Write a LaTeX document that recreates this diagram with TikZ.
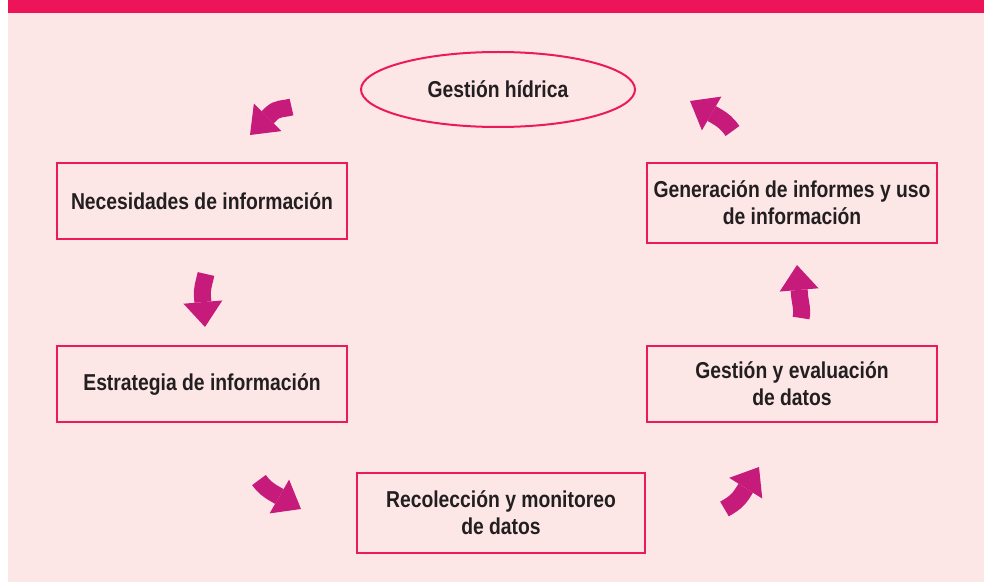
\documentclass[tikz,border=0pt]{standalone}
\usepackage{fontspec}
\setmainfont{Liberation Sans}[FakeStretch=0.84]
\usepackage{tikz}
\usetikzlibrary{arrows.meta, shapes.geometric}

\definecolor{bandred}{HTML}{EE1459}
\definecolor{bgpink}{HTML}{FCE6E6}
\definecolor{boxline}{HTML}{EC1A5C}
\definecolor{arrowmag}{HTML}{C71B7C}
\definecolor{textgray}{HTML}{231F20}

\begin{document}
\begin{tikzpicture}[x=1pt, y=1pt,
		every node/.style={font=\fontsize{23}{27}\selectfont\bfseries, text=textgray, align=center},
		stepbox/.style={draw=boxline, line width=2pt, minimum width=290pt, minimum height=76pt, inner sep=0pt},
		goalbox/.style={ellipse, draw=boxline, line width=2pt, minimum width=274pt, minimum height=75pt, inner sep=0pt},
		bigarrow/.style={arrowmag, line width=17pt, -{Triangle[width=39pt, length=25pt, line width=0pt]}}]
		
		% Background and top band
		\useasboundingbox (0,0) rectangle (984,582);
		\fill[white] (0,0) rectangle (984,582);
		\fill[bgpink] (8,0) rectangle (984,569);
		\fill[bandred] (8,569) rectangle (984,582);
		
		% Goal (ellipse)
		\node[goalbox] (gestion) at (498,492.5) {Gestión hídrica};
		
		% Left column
		\node[stepbox] (necesidades) at (202,381) {Necesidades de información};
		\node[stepbox] (estrategia) at (202,198) {Estrategia de información};
		
		% Bottom
		\node[stepbox, minimum width=288pt, minimum height=80pt] (recoleccion) at (501,69) {Recolección y monitoreo\\de datos};
		
		% Right column
		\node[stepbox] (evaluacion) at (792,198) {Gestión y evaluación\\de datos};
		\node[stepbox, minimum height=80pt] (informes) at (792,379) {Generación de informes y uso\\de información};
		
		% Cycle arrows (tail, head base, tip)
		\coordinate (a1s) at (291.5,475); \coordinate (a1m) at (271.2,468.2); \coordinate (a1e) at (250,447);
		\draw[bigarrow] (a1s) to[out=195, in=45] (a1m) -- (a1e);
		\coordinate (a2s) at (206,308); \coordinate (a2m) at (202.5,284.7); \coordinate (a2e) at (205,255);
		\draw[bigarrow] (a2s) to[out=-102, in=95] (a2m) -- (a2e);
		\coordinate (a3s) at (259,102); \coordinate (a3m) at (275,88); \coordinate (a3e) at (301,73);
		\draw[bigarrow] (a3s) to[out=-55, in=150] (a3m) -- (a3e);
		\coordinate (a4s) at (724.5,73); \coordinate (a4m) at (743.1,89.6); \coordinate (a4e) at (759,115);
		\draw[bigarrow] (a4s) to[out=30, in=-122] (a4m) -- (a4e);
		\coordinate (a5s) at (801,264); \coordinate (a5m) at (799.5,287.3); \coordinate (a5e) at (797,317);
		\draw[bigarrow] (a5s) to[out=78, in=-85] (a5m) -- (a5e);
		\coordinate (a6s) at (732.5,451); \coordinate (a6m) at (716,466); \coordinate (a6e) at (690,481);
		\draw[bigarrow] (a6s) to[out=125, in=-30] (a6m) -- (a6e);
		
	\end{tikzpicture}
\end{document}
